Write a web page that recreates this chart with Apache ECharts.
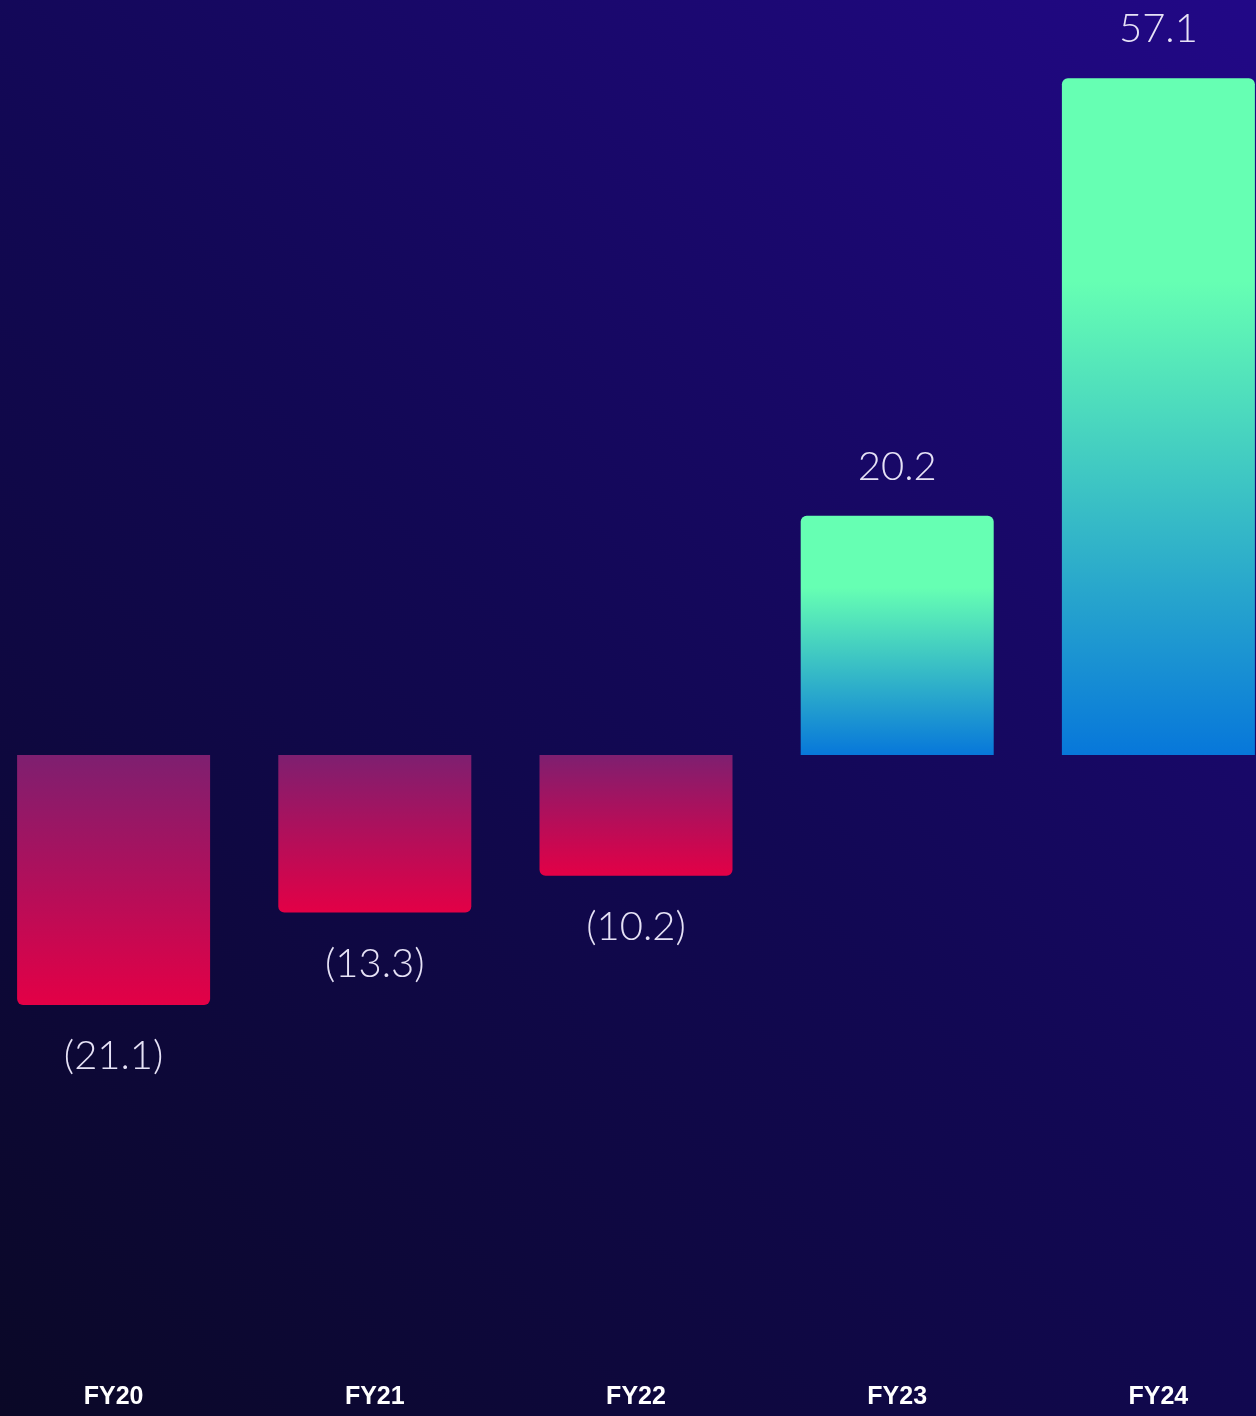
<!DOCTYPE html>
<html>
<head>
<meta charset="utf-8">
<script src="https://cdn.jsdelivr.net/npm/echarts@6/dist/echarts.min.js"></script>
<style>
html,body{margin:0;padding:0;width:1256px;height:1416px;overflow:hidden;background:#120850;}
#c{position:absolute;left:-17px;top:0;width:1306px;height:1416px;}
</style>
</head>
<body>
<div id="c"></div>
<script>
const categories = ['FY20', 'FY21', 'FY22', 'FY23', 'FY24'];
const values = [-21.1, -13.3, -10.2, 20.2, 57.1];

const posGrad = {type:'linear', x:0, y:0, x2:0, y2:1, colorStops:[
  {offset:0, color:'#66ffb3'}, {offset:0.3, color:'#66ffb3'}, {offset:1, color:'#0777da'}]};
const negGrad = {type:'linear', x:0, y:0, x2:0, y2:1, colorStops:[
  {offset:0, color:'#7e1f70'}, {offset:1, color:'#e30046'}]};

const data = values.map(v => ({
  value: v,
  itemStyle: {
    color: v >= 0 ? posGrad : negGrad,
    borderRadius: v >= 0 ? [6,6,0,0] : [0,0,6,6]
  },
  label: {
    position: v >= 0 ? 'top' : 'bottom',
    distance: v >= 0 ? 29 : 31
  }
}));

const chart = echarts.init(document.getElementById('c'), null, {renderer:'canvas'});
chart.setOption({
  backgroundColor: {type:'linear', x:0, y:1, x2:1, y2:0, colorStops:[
    {offset:0, color:'#0a0826'}, {offset:0.5, color:'#120854'}, {offset:1, color:'#220888'}]},
  animation: false,
  grid: {left: 0, right: 0, top: 44, height: 1303.5, containLabel: false},
  xAxis: {
    type: 'category',
    data: categories,
    axisLine: {show:false},
    axisTick: {show:false},
    axisLabel: {color:'#ffffff', fontFamily:'Liberation Sans', fontWeight:'bold', fontSize:25, margin:37}
  },
  yAxis: {
    type: 'value',
    min: -50, max: 60,
    show: false,
    splitLine: {show:false}
  },
  series: [{
    type: 'bar',
    data: data,
    barWidth: 193,
    label: {
      show: true,
      color: '#e6e2f6',
      fontFamily: 'Lato',
      fontWeight: 300,
      fontSize: 40,
      formatter: p => p.value < 0 ? '(' + Math.abs(p.value).toFixed(1) + ')' : p.value.toFixed(1)
    }
  }]
});
</script>
</body>
</html>
